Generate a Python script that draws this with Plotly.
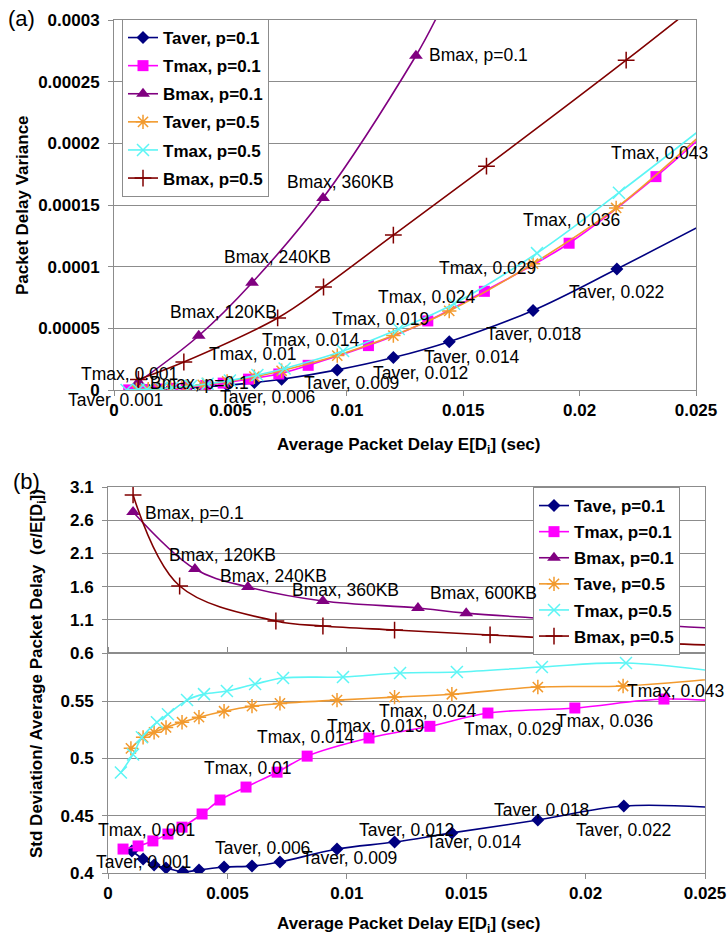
import plotly.graph_objects as go

FONT = "Liberation Sans, Arial, sans-serif"
W, H = 728, 938

# ---------------- Panel (a): Packet delay variance ----------------
a_taver01_x = [0.0010, 0.00147, 0.00193, 0.00243, 0.00314, 0.00381, 0.00486, 0.00603, 0.0072, 0.00959, 0.0120, 0.0144, 0.0180, 0.0216, 0.0262]
a_taver01_y = [1.8e-7, 3.7e-7, 6.2e-7, 9.7e-7, 1.6e-6, 2.4e-6, 3.9e-6, 6.0e-6, 8.7e-6, 1.63e-5, 2.63e-5, 3.92e-5, 6.45e-5, 9.81e-5, 1.43e-4]

a_tmax01_x = [0.00063, 0.00126, 0.00188, 0.00251, 0.0031, 0.00394, 0.00469, 0.00578, 0.00708, 0.00834, 0.01093, 0.01348, 0.01591, 0.01955, 0.02328, 0.0262]
a_tmax01_y = [1.0e-7, 3.5e-7, 7.5e-7, 1.35e-6, 2.1e-6, 3.6e-6, 5.6e-6, 8.8e-6, 1.3e-5, 2.0e-5, 3.6e-5, 5.6e-5, 8.0e-5, 1.19e-4, 1.73e-4, 2.22e-4]

a_bmax01_x = [0.00105, 0.00364, 0.00593, 0.00898, 0.01297, 0.0150, 0.0260]
a_bmax01_y = [6.5e-6, 4.4e-5, 8.7e-5, 1.556e-4, 2.71e-4, 3.4e-4, 6.2e-4]

a_taver05_x = [0.00096, 0.00147, 0.00193, 0.00243, 0.0031, 0.00381, 0.00486, 0.00603, 0.0072, 0.00959, 0.0120, 0.0144, 0.0180, 0.02157, 0.0262]
a_taver05_y = [2.4e-7, 5.8e-7, 1.02e-6, 1.64e-6, 2.72e-6, 4.17e-6, 6.9e-6, 1.08e-5, 1.56e-5, 2.79e-5, 4.41e-5, 6.41e-5, 1.024e-4, 1.476e-4, 2.24e-4]

a_tmax05_x = [0.00054, 0.00105, 0.00142, 0.00205, 0.00251, 0.00331, 0.00402, 0.00498, 0.00616, 0.00733, 0.00984, 0.01223, 0.01461, 0.01817, 0.02169, 0.0262]
a_tmax05_y = [7e-8, 2.8e-7, 5.4e-7, 1.19e-6, 1.83e-6, 3.32e-6, 5.0e-6, 7.7e-6, 1.21e-5, 1.75e-5, 3.16e-5, 4.94e-5, 7.0e-5, 1.11e-4, 1.6e-4, 2.26e-4]

a_bmax05_x = [0.00105, 0.0030, 0.00703, 0.0090, 0.0120, 0.0160, 0.0220, 0.0262]
a_bmax05_y = [8.5e-6, 2.27e-5, 5.84e-5, 8.35e-5, 1.256e-4, 1.815e-4, 2.674e-4, 3.3e-4]

# ---------------- Panel (b): Std deviation / average packet delay ----------------
b_tave01_x = [0.0010, 0.00147, 0.00193, 0.00243, 0.00314, 0.00381, 0.00486, 0.00603, 0.0072, 0.00959, 0.0120, 0.0144, 0.0180, 0.0216, 0.0262]
b_tave01_y = [0.4192, 0.4122, 0.4070, 0.4044, 0.4010, 0.4026, 0.4052, 0.4060, 0.4096, 0.4209, 0.4270, 0.4350, 0.4462, 0.4585, 0.4560]

b_tmax01_x = [0.00063, 0.00126, 0.00188, 0.00251, 0.0031, 0.00394, 0.00469, 0.00578, 0.00708, 0.00834, 0.01093, 0.01348, 0.01591, 0.01955, 0.02328, 0.0262]
b_tmax01_y = [0.4209, 0.4236, 0.4280, 0.4340, 0.4400, 0.4515, 0.4637, 0.4750, 0.4880, 0.5020, 0.5178, 0.5280, 0.5396, 0.5440, 0.5518, 0.5490]

b_bmax01_x = [0.00105, 0.00364, 0.00586, 0.0090, 0.01298, 0.0150, 0.0260]
b_bmax01_y = [2.724, 1.865, 1.594, 1.383, 1.278, 1.200, 0.960]

b_tave05_x = [0.00096, 0.00147, 0.00193, 0.00243, 0.0031, 0.00381, 0.00486, 0.00603, 0.0072, 0.00959, 0.0120, 0.0144, 0.0180, 0.02157, 0.0262]
b_tave05_y = [0.5088, 0.5184, 0.5228, 0.5270, 0.5316, 0.5360, 0.5412, 0.5456, 0.5480, 0.5509, 0.5535, 0.5560, 0.5623, 0.5632, 0.5710]

b_tmax05_x = [0.00054, 0.00105, 0.00142, 0.00205, 0.00251, 0.00331, 0.00402, 0.00498, 0.00616, 0.00733, 0.00984, 0.01223, 0.01461, 0.01817, 0.02169, 0.0262]
b_tmax05_y = [0.4877, 0.5035, 0.5184, 0.5316, 0.5386, 0.5509, 0.5561, 0.5588, 0.5649, 0.5702, 0.5711, 0.5746, 0.5754, 0.5798, 0.5833, 0.5740]

b_bmax05_x = [0.00105, 0.0030, 0.00703, 0.0090, 0.0120, 0.0160, 0.0220, 0.0262]
b_bmax05_y = [2.98, 1.609, 1.082, 1.007, 0.946, 0.872, 0.760, 0.710]

# ---------------- Axis ticks ----------------
x_tickvals = [0, 0.005, 0.01, 0.015, 0.02, 0.025]
x_ticktext = ["0", "0.005", "0.01", "0.015", "0.02", "0.025"]
a_y_tickvals = [0, 0.00005, 0.0001, 0.00015, 0.0002, 0.00025, 0.0003]
a_y_ticktext = ["0", "0.00005", "0.0001", "0.00015", "0.0002", "0.00025", "0.0003"]
b_low_tickvals = [0.4, 0.45, 0.5, 0.55]
b_low_ticktext = ["0.4", "0.45", "0.5", "0.55"]
b_high_tickvals = [0.6, 1.1, 1.6, 2.1, 2.6, 3.1]
b_high_ticktext = ["0.6", "1.1", "1.6", "2.1", "2.6", "3.1"]

# ---------------- Data labels ----------------
a_lbl_text = ["Bmax, p=0.1", "Bmax, 360KB", "Bmax, 240KB", "Bmax, 120KB", "Tmax, 0.001", "Bmax, p=0.1",
              "Taver, 0.001", "Tmax, 0.01", "Taver, 0.006", "Tmax, 0.014", "Taver, 0.009", "Taver, 0.012",
              "Taver, 0.014", "Taver, 0.018", "Taver, 0.022", "Tmax, 0.019", "Tmax, 0.024", "Tmax, 0.029",
              "Tmax, 0.036", "Tmax, 0.043"]
a_lbl_x = [0.013445, 0.007345, 0.004639, 0.00232, 0.002835, 0.00146,
           0.00219, 0.003995, 0.004467, 0.006271, 0.008076, 0.01104,
           0.01323, 0.01589, 0.01946, 0.00928, 0.01125, 0.01387,
           0.01748, 0.02126]
a_lbl_y = [2.716e-4, 1.686e-4, 1.078e-4, 6.32e-5, 1.30e-5, 5.7e-6,
           1.6e-6, 2.92e-5, 4.05e-6, 4.05e-5, 5.7e-6, 1.38e-5,
           2.68e-5, 4.54e-5, 7.95e-5, 5.76e-5, 7.54e-5, 9.89e-5,
           1.378e-4, 1.921e-4]
a_lbl_xanchor = ["left"] * 4 + ["right", "left", "right"] + ["left"] * 13
a_lbl_yanchor = ["middle"] * 6 + ["top", "middle", "top"] + ["middle"] * 11

b_lbl_text = ["Bmax, p=0.1", "Bmax, 120KB", "Bmax, 240KB", "Bmax, 360KB", "Bmax, 600KB",
              "Tmax, 0.001", "Taver, 0.001", "Taver, 0.006", "Taver, 0.009", "Tmax, 0.01",
              "Tmax, 0.014", "Tmax, 0.019", "Tmax, 0.024", "Tmax, 0.029", "Tmax, 0.036",
              "Tmax, 0.043", "Taver, 0.012", "Taver, 0.014", "Taver, 0.018", "Taver, 0.022"]
b_lbl_x = [0.001466, 0.002471, 0.004606, 0.007621, 0.0134,
           0.003727, 0.00356, 0.004397, 0.00804, 0.003936,
           0.006156, 0.009087, 0.01126, 0.01482, 0.01868,
           0.02165, 0.01043, 0.01323, 0.01608, 0.01951]
b_lbl_y = [2.708, 2.076, 1.760, 1.549, 1.504,
           0.4375, 0.4096, 0.4218, 0.4131, 0.4916,
           0.5187, 0.5283, 0.5414, 0.5257, 0.5326,
           0.5588, 0.4375, 0.4271, 0.4550, 0.4375]
b_lbl_axis = ["y3"] * 5 + ["y2"] * 15
b_lbl_xanchor = ["left"] * 5 + ["right", "right"] + ["left"] * 13

# ---------------- Styles ----------------
C_NAVY, C_MAG, C_PURP, C_ORG, C_CYAN, C_MAR = "#000080", "#FF00FF", "#800080", "#F29A2E", "#5CF5F5", "#800000"
GRID = "#8C8C8C"

fig = go.Figure()


def add(x, y, name, color, symbol, size, xa, ya, leg, grp, open_sym=False):
    marker = dict(symbol=symbol, size=size, color=color)
    if open_sym:
        marker["line"] = dict(width=1.5, color=color)
    fig.add_trace(go.Scatter(
        x=x, y=y, name=name, mode="lines+markers",
        line=dict(color=color, width=1.6, shape="spline", smoothing=1.0),
        marker=marker, xaxis=xa, yaxis=ya, legend=leg, legendgroup=grp,
        cliponaxis=True,
    ))


add(a_taver01_x, a_taver01_y, "Taver, p=0.1", C_NAVY, "diamond", 10, "x", "y", "legend", "a1")
add(a_tmax01_x, a_tmax01_y, "Tmax, p=0.1", C_MAG, "square", 11, "x", "y", "legend", "a2")
add(a_bmax01_x, a_bmax01_y, "Bmax, p=0.1", C_PURP, "triangle-up", 12, "x", "y", "legend", "a3")
add(a_taver05_x, a_taver05_y, "Taver, p=0.5", C_ORG, "asterisk-open", 12, "x", "y", "legend", "a4", True)
add(a_tmax05_x, a_tmax05_y, "Tmax, p=0.5", C_CYAN, "x-thin-open", 12, "x", "y", "legend", "a5", True)
add(a_bmax05_x, a_bmax05_y, "Bmax, p=0.5", C_MAR, "cross-thin-open", 12, "x", "y", "legend", "a6", True)

add(b_tave01_x, b_tave01_y, "Tave, p=0.1", C_NAVY, "diamond", 10, "x2", "y2", "legend2", "b1")
add(b_tmax01_x, b_tmax01_y, "Tmax, p=0.1", C_MAG, "square", 11, "x2", "y2", "legend2", "b2")
add(b_bmax01_x, b_bmax01_y, "Bmax, p=0.1", C_PURP, "triangle-up", 12, "x2", "y3", "legend2", "b3")
add(b_tave05_x, b_tave05_y, "Tave, p=0.5", C_ORG, "asterisk-open", 12, "x2", "y2", "legend2", "b4", True)
add(b_tmax05_x, b_tmax05_y, "Tmax, p=0.5", C_CYAN, "x-thin-open", 12, "x2", "y2", "legend2", "b5", True)
add(b_bmax05_x, b_bmax05_y, "Bmax, p=0.5", C_MAR, "cross-thin-open", 12, "x2", "y3", "legend2", "b6", True)

bold = dict(family=FONT, size=17, color="black", weight="bold")
reg = dict(family=FONT, size=17.5, color="black")


def px_x(p):
    return p / W


def px_y(p):
    return 1 - p / H


common_x = dict(range=[0, 0.025], tickvals=x_tickvals, ticktext=x_ticktext, tickfont=bold,
                ticks="outside", ticklen=5, tickcolor=GRID, showline=True, linecolor=GRID,
                linewidth=1, showgrid=False, zeroline=False, automargin=False)
common_y = dict(tickfont=bold, ticks="outside", ticklen=5, tickcolor=GRID, showline=True,
                linecolor=GRID, linewidth=1, mirror=True, showgrid=True, gridcolor=GRID,
                gridwidth=1, zeroline=False, ticklabelstandoff=5, automargin=False)

fig.update_layout(
    width=W, height=H, margin=dict(l=0, r=0, t=0, b=0, autoexpand=False),
    paper_bgcolor="white", plot_bgcolor="white",
    xaxis=dict(domain=[px_x(114), px_x(696)], anchor="y", mirror=True, **common_x),
    yaxis=dict(domain=[px_y(390), px_y(20)], anchor="x", range=[0, 0.0003],
               tickvals=a_y_tickvals, ticktext=a_y_ticktext, **common_y),
    xaxis2=dict(domain=[px_x(108), px_x(705)], anchor="y2", mirror="all", **common_x),
    yaxis2=dict(domain=[px_y(873), px_y(653)], anchor="x2", range=[0.4, 0.592],
                tickvals=b_low_tickvals, ticktext=b_low_ticktext, **common_y),
    yaxis3=dict(domain=[px_y(653), px_y(487)], anchor="x2", range=[0.6, 3.1],
                tickvals=b_high_tickvals, ticktext=b_high_ticktext, **common_y),
    legend=dict(x=px_x(122), y=px_y(19), xanchor="left", yanchor="top", bgcolor="white",
                bordercolor=GRID, borderwidth=1, font=bold, traceorder="grouped",
                tracegroupgap=3),
    legend2=dict(x=px_x(533), y=px_y(487), xanchor="left", yanchor="top", bgcolor="white",
                 bordercolor=GRID, borderwidth=1, font=bold, traceorder="grouped",
                 tracegroupgap=1),
    showlegend=True,
)

annotations = []
for t, x, y, xa, ya in zip(a_lbl_text, a_lbl_x, a_lbl_y, a_lbl_xanchor, a_lbl_yanchor):
    annotations.append(dict(text=t, x=x, y=y, xref="x", yref="y", xanchor=xa,
                            yanchor=ya, showarrow=False, font=reg))
for t, x, y, ya, xa in zip(b_lbl_text, b_lbl_x, b_lbl_y, b_lbl_axis, b_lbl_xanchor):
    annotations.append(dict(text=t, x=x, y=y, xref="x2", yref=ya, xanchor=xa,
                            yanchor="middle", showarrow=False, font=reg))

# titles and panel letters
annotations += [
    dict(text="(a)", x=px_x(6), y=px_y(18), xref="paper", yref="paper", xanchor="left",
         yanchor="middle", showarrow=False, font=dict(family=FONT, size=22, color="black")),
    dict(text="(b)", x=px_x(11), y=px_y(482), xref="paper", yref="paper", xanchor="left",
         yanchor="middle", showarrow=False, font=dict(family=FONT, size=22, color="black")),
    dict(text="Packet Delay Variance", x=px_x(22), y=px_y(205), xref="paper", yref="paper",
         textangle=-90, showarrow=False, font=bold, xanchor="center", yanchor="middle"),
    dict(text="Average Packet Delay E[D<sub>i</sub>] (sec)", x=px_x(408), y=px_y(446),
         xref="paper", yref="paper", showarrow=False, font=bold, xanchor="center", yanchor="middle"),
    dict(text="Std Deviation/ Average Packet Delay  (σ/E[D<sub>i</sub>])", x=px_x(38), y=px_y(674),
         xref="paper", yref="paper", textangle=-90, showarrow=False, font=bold,
         xanchor="center", yanchor="middle"),
    dict(text="Average Packet Delay E[D<sub>i</sub>] (sec)", x=px_x(408), y=px_y(925),
         xref="paper", yref="paper", showarrow=False, font=bold, xanchor="center", yanchor="middle"),
]
fig.update_layout(annotations=annotations)

fig.write_html("out.html")
